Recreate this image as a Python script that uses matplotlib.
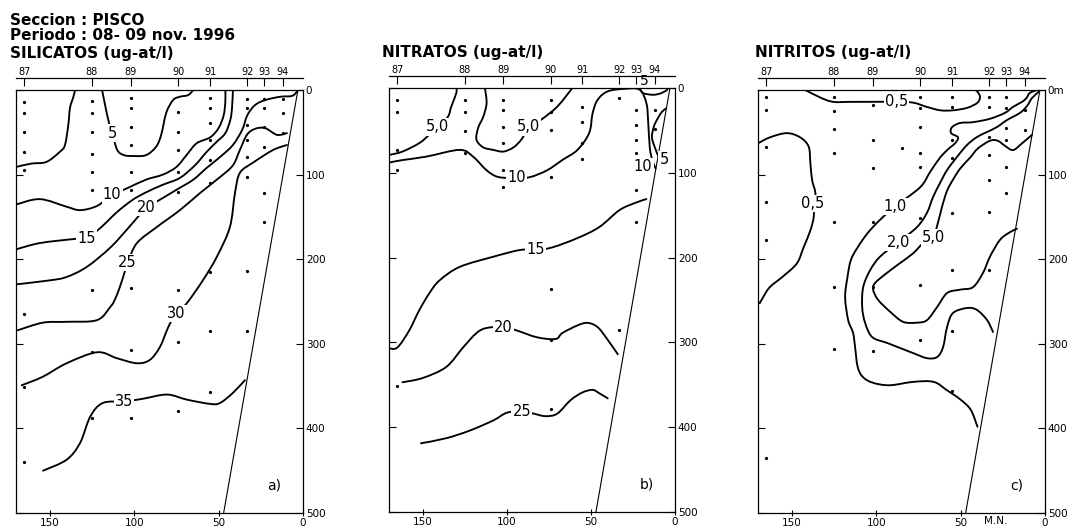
import matplotlib
matplotlib.use("Agg")
import matplotlib.pyplot as plt
from matplotlib.path import Path
from matplotlib.patches import PathPatch

# estaciones (millas nauticas a la costa)
estaciones = ["87", "88", "89", "90", "91", "92", "93", "94"]
dist_est = [165, 125, 102, 74, 55, 33, 23, 12]
prof_ticks = [0, 100, 200, 300, 400, 500]
dist_ticks = [150, 100, 50, 0]
talud_d = [3, 47]
talud_z = [0, 500]

# ---------------- a) silicatos ----------------
sil_prof = [
    [14, 27, 50, 73, 95, 265, 351, 440],
    [13, 27, 50, 76, 97, 118, 236, 310, 388],
    [9, 21, 44, 65, 97, 118, 234, 307, 388],
    [26, 50, 71, 97, 120, 236, 298, 379],
    [9, 21, 39, 59, 83, 110, 215, 285, 357],
    [11, 21, 41, 59, 79, 103, 214, 285],
    [11, 21, 44, 67, 122, 156],
    [11, 27, 51],
]
sil_5a = [(170, 91), (161, 87), (152, 85), (144, 73), (141, 65), (139, 41), (138, 21), (136, 8), (135, 0)]
sil_5b = [(119, 0), (117, 20), (115, 38), (113, 51), (110, 71), (106, 77), (101, 78), (93, 77), (87, 67),
          (84, 53), (81, 27), (77, 12), (73, 8), (68, 6), (65, 0)]
sil_10 = [(171, 136), (156, 129), (140, 138), (132, 142), (122, 137), (113, 124), (104, 116), (93, 106),
          (83, 100), (75, 91), (69, 77), (63, 63), (55, 56), (50, 45), (47, 30), (46, 14), (46, 0)]
sil_15 = [(171, 189), (156, 181), (135, 176), (128, 175), (120, 163), (110, 144), (101, 130), (93, 121),
          (83, 112), (73, 104), (64, 89), (57, 73), (51, 61), (46, 51), (43, 35), (42, 20), (41.5, 0)]
sil_20 = [(171, 230), (150, 225), (140, 221), (128, 209), (114, 186), (103, 162), (97, 148), (93, 139),
          (85, 130), (75, 118), (65, 106), (57, 92), (49, 79), (41.5, 65), (36, 47), (33, 30), (28.5, 18),
          (22.5, 12), (13.6, 8), (6.5, 7), (3.6, 2)]
sil_25 = [(169, 284), (154, 275), (140, 274), (122, 272), (114, 256), (111.5, 248), (108.5, 233),
          (105.6, 215), (103.8, 204), (98.4, 181), (86.6, 162), (72.9, 142), (61.1, 122), (49.2, 103),
          (41.5, 89), (37.4, 71), (33.2, 53), (28.5, 46), (22.5, 45), (15.4, 53), (9.5, 51)]
sil_30 = [(166.6, 349), (154.2, 339), (140, 323), (122, 310), (110.3, 317), (98.4, 323), (90.7, 319),
          (84.8, 304), (80.6, 284), (77.7, 272), (74.7, 264), (68.8, 252), (59.3, 225), (51, 197),
          (43.3, 162), (40.3, 122), (37.4, 98), (29.7, 86), (17.8, 71), (9.5, 65)]
sil_35 = [(154, 450), (140, 437), (132, 417), (126, 386), (118.6, 370), (105.6, 368), (94.9, 365),
          (80.6, 360), (68.8, 366), (55.1, 371), (49.2, 370), (41.5, 358), (34.4, 343)]
sil_etiq = [("5", 113, 51), ("10", 113, 124), ("15", 128, 175), ("20", 93, 139),
            ("25", 104, 204), ("30", 75, 264), ("35", 106, 368)]

# ---------------- b) nitratos ----------------
nit_prof = [
    [14, 28, 73, 97, 352],
    [14, 28, 51, 77],
    [14, 26, 46, 65, 97, 117],
    [14, 28, 50, 105, 237, 297, 378],
    [22, 40, 65, 84],
    [12, 285],
    [26, 44, 61, 77, 120, 158],
    [26, 48],
]
nit_5a = [(170, 79), (162, 75), (152, 65), (146, 55), (141, 46), (135, 34), (133, 22), (130, 6), (130, 0)]
nit_5b = [(113, 0), (112, 18), (114, 34), (117, 47), (118, 61), (114, 70), (108, 73), (102, 75), (96, 70),
          (91, 60), (87, 46), (80, 38), (70, 22), (61, 0)]
nit_5c = [(10, 80), (12, 70), (13.7, 58), (12.5, 45), (10, 35), (7.7, 28), (5.2, 24)]
nit_5d = [(21, 0), (19, 6), (13, 8), (8, 6), (4.5, 2)]
nit_10 = [(170, 88), (162, 85), (148, 81), (128, 73), (120, 81), (112, 97), (105, 105), (94, 106),
          (86, 105), (76, 97), (67, 85), (58, 73), (51, 53), (49, 30), (46, 14), (40, 4), (30, 1),
          (21, 2), (17, 18), (16, 38), (15, 70), (13.5, 85), (11.5, 95)]
nit_15 = [(170, 307), (165, 306), (158, 286), (152, 262), (146, 242), (140, 227), (128, 211), (108, 199),
          (92, 191), (83, 191), (73, 188), (58, 177), (45, 164), (33, 144), (23, 135), (17, 131)]
nit_20 = [(162, 347), (150, 342), (136, 329), (126, 306), (118, 289), (112, 283), (102, 282), (94, 286),
          (82, 294), (71, 296), (67, 289), (58, 280), (52, 277), (46, 282), (40, 297), (34, 314)]
nit_25 = [(151, 419), (136, 413), (122, 404), (108, 392), (100, 383), (91, 381), (84, 384), (77, 387),
          (70, 384), (62, 368), (55, 359), (49, 356), (45, 360), (40, 366)]
nit_etiq = [("5,0", 141, 46), ("5,0", 87, 46), ("10", 94, 106), ("10", 19, 93), ("5", 6.5, 84),
            ("15", 83, 191), ("20", 102, 282), ("25", 91, 381)]

# ---------------- c) nitritos ----------------
nitri_prof = [
    [8, 24, 67, 132, 177, 435],
    [8, 25, 46, 74, 156, 233, 306],
    [18, 59, 92, 156, 233, 308],
    [8, 21, 44, 74, 91, 151, 230, 296],
    [8, 20, 59, 80, 145, 213, 285, 356],
    [8, 20, 56, 77, 106, 144, 213],
    [8, 21, 45, 59, 91, 122],
    [24, 47],
]
nitri_05a = [(142, 0), (133, 9), (125.5, 14), (115, 14), (105, 14), (88, 14), (78, 15), (70, 20), (62, 24),
             (54.5, 24), (46, 21), (40, 15), (38.5, 8), (40, 2), (41.5, 0)]
nitri_05b = [(170, 63), (163, 56), (153, 51), (145, 56), (140, 67), (139, 86), (138, 106), (136, 122),
             (137, 134), (137, 150), (139, 166), (143, 186), (147, 205), (155, 220), (163, 233),
             (167, 245), (169, 252)]
nitri_10 = [(4.7, 0), (9, 3.5), (11, 9.5), (13.6, 14), (19, 20), (23.7, 27), (32.6, 34), (42.6, 38),
            (50.3, 39), (55.1, 44), (55.6, 51), (51.5, 56), (53.3, 63), (57.4, 70), (62.2, 80), (68.1, 97),
            (74, 115), (89, 138), (98, 154), (105, 169), (111, 186), (115, 201), (117, 221), (118.4, 245),
            (116.6, 272), (113.7, 287), (112.5, 304), (111, 327), (108, 339), (102, 346), (92, 349),
            (78, 345), (66, 345), (58, 355), (50, 366), (44, 378), (40, 398)]
nitri_20 = [(3.6, 2), (7.7, 9.5), (10.7, 19), (14.8, 27), (22.5, 35.5), (28.4, 43.7), (34.3, 49.6),
            (40.3, 55.6), (46.2, 65), (52.1, 79), (58, 94.6), (62.2, 110), (66.3, 126.5), (69.9, 145),
            (75.8, 162), (87, 180), (97.7, 197), (103.6, 213), (107.7, 233), (108.3, 256.5), (106.6, 275),
            (102.4, 292), (93.5, 299), (85.8, 305), (78.1, 311), (69.9, 317), (63.9, 315.6), (60.4, 304),
            (58, 280), (54.5, 263.6), (46.2, 257.7), (40.3, 260), (34.3, 272), (30.8, 286)]
nitri_50 = [(7.7, 53), (13.6, 63), (18.9, 71), (23.7, 66), (28, 60), (32.6, 60), (39.7, 69), (44.4, 80),
            (50.3, 93), (54.5, 106), (58, 119), (61, 138), (63.3, 156), (66.3, 174), (72.2, 181),
            (78.1, 193), (85.8, 204.5), (93.5, 216), (100.6, 228), (101.8, 236), (98.9, 248),
            (91.8, 262), (84.1, 274), (75.8, 275), (69.9, 272), (63.9, 256.5), (58, 240), (50.3, 236),
            (42.6, 233), (36.7, 216), (32.6, 197), (26.6, 177), (20.7, 168), (16.6, 164)]
nitri_extra = [(85, 69)]
nitri_etiq = [("0,5", 88, 14), ("0,5", 137.5, 134), ("1,0", 89, 138), ("2,0", 87, 180), ("5,0", 66, 174)]


def curva(ax, pts):
    # curva suave que pasa por los puntos leidos (Catmull-Rom -> Bezier)
    verts, codes = [pts[0]], [Path.MOVETO]
    n = len(pts)
    for i in range(n - 1):
        p0 = pts[i - 1] if i > 0 else pts[i]
        p1, p2 = pts[i], pts[i + 1]
        p3 = pts[i + 2] if i + 2 < n else pts[i + 1]
        c1 = (p1[0] + (p2[0] - p0[0]) / 6, p1[1] + (p2[1] - p0[1]) / 6)
        c2 = (p2[0] - (p3[0] - p1[0]) / 6, p2[1] - (p3[1] - p1[1]) / 6)
        verts += [c1, c2, p2]
        codes += [Path.CURVE4] * 3
    ax.add_patch(PathPatch(Path(verts, codes), fill=False, lw=1.35, ec="black",
                           capstyle="round", joinstyle="round", zorder=3))


def panel(ax, lineas, etiquetas, prof, letra, cero="0"):
    ax.set_xlim(170, 0)
    ax.set_ylim(500, 0)
    for ln in lineas:
        curva(ax, ln)
    for txt, d, z in etiquetas:
        ax.text(d, z, txt, ha="center", va="center", fontsize=10.5, zorder=5,
                bbox=dict(boxstyle="square,pad=0.08", fc="white", ec="none"))
    for d, zs in zip(dist_est, prof):
        ax.plot([d] * len(zs), zs, ls="none", marker="o", ms=1.3, color="black")
    ax.plot(talud_d, talud_z, color="black", lw=0.8)
    ax.text(17, 468, letra, ha="center", va="center", fontsize=10)

    for s in ax.spines.values():
        s.set_linewidth(0.9)
    ax.set_xticks(dist_ticks)
    ax.set_yticks(prof_ticks, labels=[cero] + [str(p) for p in prof_ticks[1:]])
    ax.tick_params(axis="x", direction="inout", length=5, labelsize=7.5, pad=1, width=0.8)
    ax.tick_params(axis="y", left=True, right=True, labelleft=False, labelright=True,
                   direction="in", length=5, labelsize=7.5, pad=2, width=0.8)

    sec = ax.secondary_xaxis(1.028)
    sec.set_xticks(dist_est, labels=estaciones)
    sec.tick_params(direction="in", length=6, labelsize=7, pad=1, width=0.8)
    sec.spines["top"].set_linewidth(0.9)


fig = plt.figure(figsize=(10.74, 5.31), dpi=100)
ax_a = fig.add_axes([0.0149, 0.0339, 0.2672, 0.7966])
ax_b = fig.add_axes([0.3622, 0.0358, 0.2663, 0.7985])
ax_c = fig.add_axes([0.7058, 0.0339, 0.2672, 0.7966])

panel(ax_a, [sil_5a, sil_5b, sil_10, sil_15, sil_20, sil_25, sil_30, sil_35], sil_etiq, sil_prof, "a)")
panel(ax_b, [nit_5a, nit_5b, nit_5c, nit_5d, nit_10, nit_15, nit_20, nit_25], nit_etiq, nit_prof, "b)")
panel(ax_c, [nitri_05a, nitri_05b, nitri_10, nitri_20, nitri_50], nitri_etiq, nitri_prof, "c)", cero="0m")

# punto extra en c)
ax_c.plot([p[0] for p in nitri_extra], [p[1] for p in nitri_extra], ls="none", marker="o", ms=1.3, color="black")
# etiqueta "5" sobre el marco en b)
ax_b.text(18, -8, "5", ha="center", va="center", fontsize=10, clip_on=False)
# M.N. junto al eje de distancias en c)
ax_c.annotate("M.N.", xy=(29, 500), xytext=(0, -2), textcoords="offset points",
              ha="center", va="top", fontsize=7.5, annotation_clip=False)

fig.text(0.0093, 0.962, "Seccion : PISCO", fontsize=11, fontweight="bold", va="center")
fig.text(0.0093, 0.934, "Periodo : 08- 09 nov. 1996", fontsize=11, fontweight="bold", va="center")
fig.text(0.0093, 0.899, "SILICATOS (ug-at/l)", fontsize=11, fontweight="bold", va="center")
fig.text(0.3557, 0.902, "NITRATOS (ug-at/l)", fontsize=11, fontweight="bold", va="center")
fig.text(0.7030, 0.902, "NITRITOS (ug-at/l)", fontsize=11, fontweight="bold", va="center")

fig.savefig("out.png", dpi=100)
